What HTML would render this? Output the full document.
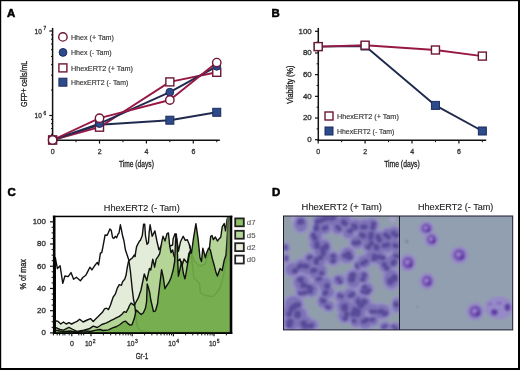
<!DOCTYPE html>
<html><head><meta charset="utf-8"><style>
html,body{margin:0;padding:0;background:#fff;width:520px;height:370px;overflow:hidden;}
svg{display:block;opacity:0.999;}
text{font-family:"Liberation Sans", sans-serif;}
</style></head><body>
<svg width="520" height="370" viewBox="0 0 520 370">
<rect width="520" height="370" fill="#fff"/>
<text x="7.10" y="17.00" font-size="11.4" text-anchor="start" fill="#000" stroke="#000" stroke-width="0.55" font-weight="bold" >A</text>
<line x1="52.60" y1="27.90" x2="52.60" y2="140.90" stroke="#111" stroke-width="1.5"/>
<line x1="51.90" y1="140.20" x2="219.80" y2="140.20" stroke="#111" stroke-width="1.5"/>
<line x1="49.30" y1="115.50" x2="52.60" y2="115.50" stroke="#111" stroke-width="1.2"/>
<line x1="49.30" y1="31.00" x2="52.60" y2="31.00" stroke="#111" stroke-width="1.2"/>
<line x1="51.00" y1="134.25" x2="52.60" y2="134.25" stroke="#111" stroke-width="1.0"/>
<line x1="51.00" y1="128.59" x2="52.60" y2="128.59" stroke="#111" stroke-width="1.0"/>
<line x1="51.00" y1="123.69" x2="52.60" y2="123.69" stroke="#111" stroke-width="1.0"/>
<line x1="51.00" y1="119.37" x2="52.60" y2="119.37" stroke="#111" stroke-width="1.0"/>
<line x1="51.00" y1="90.06" x2="52.60" y2="90.06" stroke="#111" stroke-width="1.0"/>
<line x1="51.00" y1="75.18" x2="52.60" y2="75.18" stroke="#111" stroke-width="1.0"/>
<line x1="51.00" y1="64.63" x2="52.60" y2="64.63" stroke="#111" stroke-width="1.0"/>
<line x1="51.00" y1="56.44" x2="52.60" y2="56.44" stroke="#111" stroke-width="1.0"/>
<line x1="51.00" y1="49.75" x2="52.60" y2="49.75" stroke="#111" stroke-width="1.0"/>
<line x1="51.00" y1="44.09" x2="52.60" y2="44.09" stroke="#111" stroke-width="1.0"/>
<line x1="51.00" y1="39.19" x2="52.60" y2="39.19" stroke="#111" stroke-width="1.0"/>
<line x1="51.00" y1="34.87" x2="52.60" y2="34.87" stroke="#111" stroke-width="1.0"/>
<line x1="52.60" y1="140.20" x2="52.60" y2="143.60" stroke="#111" stroke-width="1.2"/>
<line x1="76.05" y1="140.20" x2="76.05" y2="142.20" stroke="#111" stroke-width="1.0"/>
<line x1="99.50" y1="140.20" x2="99.50" y2="143.60" stroke="#111" stroke-width="1.2"/>
<line x1="122.95" y1="140.20" x2="122.95" y2="142.20" stroke="#111" stroke-width="1.0"/>
<line x1="146.40" y1="140.20" x2="146.40" y2="143.60" stroke="#111" stroke-width="1.2"/>
<line x1="169.85" y1="140.20" x2="169.85" y2="142.20" stroke="#111" stroke-width="1.0"/>
<line x1="193.30" y1="140.20" x2="193.30" y2="143.60" stroke="#111" stroke-width="1.2"/>
<line x1="216.75" y1="140.20" x2="216.75" y2="142.20" stroke="#111" stroke-width="1.0"/>
<text x="41.80" y="33.70" font-size="6.5" text-anchor="end" fill="#333" stroke="#333" stroke-width="0.3" textLength="7.2" lengthAdjust="spacingAndGlyphs" >10</text>
<text x="43.50" y="30.20" font-size="4.8" text-anchor="start" fill="#333" stroke="#333" stroke-width="0.3" >7</text>
<text x="41.80" y="118.20" font-size="6.5" text-anchor="end" fill="#333" stroke="#333" stroke-width="0.3" textLength="7.2" lengthAdjust="spacingAndGlyphs" >10</text>
<text x="43.50" y="114.70" font-size="4.8" text-anchor="start" fill="#333" stroke="#333" stroke-width="0.3" >6</text>
<text x="52.70" y="153.60" font-size="7" text-anchor="middle" fill="#333" stroke="#333" stroke-width="0.3" >0</text>
<text x="99.60" y="153.60" font-size="7" text-anchor="middle" fill="#333" stroke="#333" stroke-width="0.3" >2</text>
<text x="146.50" y="153.60" font-size="7" text-anchor="middle" fill="#333" stroke="#333" stroke-width="0.3" >4</text>
<text x="193.40" y="153.60" font-size="7" text-anchor="middle" fill="#333" stroke="#333" stroke-width="0.3" >6</text>
<text x="118.90" y="167.10" font-size="9.2" text-anchor="start" fill="#222" stroke="#222" stroke-width="0.3" textLength="35" lengthAdjust="spacingAndGlyphs" >Time (days)</text>
<text x="27.30" y="107.00" font-size="8.4" text-anchor="start" fill="#222" stroke="#222" stroke-width="0.3" textLength="46.2" lengthAdjust="spacingAndGlyphs" transform="rotate(-90 27.30 107.00)" >GFP+ cells/mL</text>
<path d="M52.60,140.00 L99.50,124.80 L169.85,120.20 L216.75,112.30" fill="none" stroke="#1f2a4e" stroke-width="1.9" stroke-linejoin="round"/>
<path d="M52.60,140.00 L99.50,127.20 L169.85,81.90 L216.75,72.30" fill="none" stroke="#981845" stroke-width="1.9" stroke-linejoin="round"/>
<path d="M52.60,140.00 L99.50,123.60 L169.85,92.20 L216.75,66.30" fill="none" stroke="#1f2a4e" stroke-width="1.9" stroke-linejoin="round"/>
<path d="M52.60,140.00 L99.50,118.20 L169.85,100.00 L216.75,62.60" fill="none" stroke="#981845" stroke-width="1.9" stroke-linejoin="round"/>
<rect x="48.60" y="136.00" width="8" height="8" fill="#2d4a8a" stroke="#1d2d5c" stroke-width="1"/>
<rect x="95.50" y="120.80" width="8" height="8" fill="#2d4a8a" stroke="#1d2d5c" stroke-width="1"/>
<rect x="165.85" y="116.20" width="8" height="8" fill="#2d4a8a" stroke="#1d2d5c" stroke-width="1"/>
<rect x="212.75" y="108.30" width="8" height="8" fill="#2d4a8a" stroke="#1d2d5c" stroke-width="1"/>
<rect x="48.60" y="136.00" width="8.0" height="8.0" fill="#fff" stroke="#6e1636" stroke-width="1.4"/>
<rect x="95.50" y="123.20" width="8.0" height="8.0" fill="#fff" stroke="#6e1636" stroke-width="1.4"/>
<rect x="165.85" y="77.90" width="8.0" height="8.0" fill="#fff" stroke="#6e1636" stroke-width="1.4"/>
<rect x="212.75" y="68.30" width="8.0" height="8.0" fill="#fff" stroke="#6e1636" stroke-width="1.4"/>
<circle cx="52.60" cy="140.00" r="3.9000000000000004" fill="#2d4a8a" stroke="#1d2d5c" stroke-width="1"/>
<circle cx="99.50" cy="123.60" r="3.9000000000000004" fill="#2d4a8a" stroke="#1d2d5c" stroke-width="1"/>
<circle cx="169.85" cy="92.20" r="3.9000000000000004" fill="#2d4a8a" stroke="#1d2d5c" stroke-width="1"/>
<circle cx="216.75" cy="66.30" r="3.9000000000000004" fill="#2d4a8a" stroke="#1d2d5c" stroke-width="1"/>
<circle cx="52.60" cy="140.00" r="4.2" fill="#fff" stroke="#6e1636" stroke-width="1.4"/>
<circle cx="99.50" cy="118.20" r="4.2" fill="#fff" stroke="#6e1636" stroke-width="1.4"/>
<circle cx="169.85" cy="100.00" r="4.2" fill="#fff" stroke="#6e1636" stroke-width="1.4"/>
<circle cx="216.75" cy="62.60" r="4.2" fill="#fff" stroke="#6e1636" stroke-width="1.4"/>
<circle cx="62.90" cy="36.90" r="4.2" fill="#fff" stroke="#6e1636" stroke-width="1.4"/>
<text x="70.90" y="39.60" font-size="7.3" text-anchor="start" fill="#333" stroke="#333" stroke-width="0.15" textLength="43.1" lengthAdjust="spacingAndGlyphs" >Hhex (+ Tam)</text>
<circle cx="63.00" cy="52.40" r="3.9000000000000004" fill="#2d4a8a" stroke="#1d2d5c" stroke-width="1"/>
<text x="70.90" y="54.50" font-size="7.3" text-anchor="start" fill="#333" stroke="#333" stroke-width="0.15" textLength="40.8" lengthAdjust="spacingAndGlyphs" >Hhex (- Tam)</text>
<rect x="58.90" y="63.90" width="8.0" height="8.0" fill="#fff" stroke="#6e1636" stroke-width="1.4"/>
<text x="70.90" y="70.50" font-size="7.3" text-anchor="start" fill="#333" stroke="#333" stroke-width="0.15" textLength="62.0" lengthAdjust="spacingAndGlyphs" >HhexERT2 (+ Tam)</text>
<rect x="58.90" y="78.20" width="8" height="8" fill="#2d4a8a" stroke="#1d2d5c" stroke-width="1"/>
<text x="70.90" y="84.90" font-size="7.3" text-anchor="start" fill="#333" stroke="#333" stroke-width="0.15" textLength="57.4" lengthAdjust="spacingAndGlyphs" >HhexERT2 (- Tam)</text>
<text x="271.60" y="16.90" font-size="11.4" text-anchor="start" fill="#000" stroke="#000" stroke-width="0.55" font-weight="bold" >B</text>
<line x1="318.30" y1="27.90" x2="318.30" y2="141.00" stroke="#111" stroke-width="1.5"/>
<line x1="317.60" y1="140.30" x2="486.20" y2="140.30" stroke="#111" stroke-width="1.5"/>
<line x1="315.00" y1="139.70" x2="318.30" y2="139.70" stroke="#111" stroke-width="1.2"/>
<text x="311.70" y="142.10" font-size="6.8" text-anchor="end" fill="#333" stroke="#333" stroke-width="0.3" textLength="4.4" lengthAdjust="spacingAndGlyphs" >0</text>
<line x1="315.00" y1="118.02" x2="318.30" y2="118.02" stroke="#111" stroke-width="1.2"/>
<text x="311.70" y="120.42" font-size="6.8" text-anchor="end" fill="#333" stroke="#333" stroke-width="0.3" textLength="8.8" lengthAdjust="spacingAndGlyphs" >20</text>
<line x1="315.00" y1="96.34" x2="318.30" y2="96.34" stroke="#111" stroke-width="1.2"/>
<text x="311.70" y="98.74" font-size="6.8" text-anchor="end" fill="#333" stroke="#333" stroke-width="0.3" textLength="8.8" lengthAdjust="spacingAndGlyphs" >40</text>
<line x1="315.00" y1="74.66" x2="318.30" y2="74.66" stroke="#111" stroke-width="1.2"/>
<text x="311.70" y="77.06" font-size="6.8" text-anchor="end" fill="#333" stroke="#333" stroke-width="0.3" textLength="8.8" lengthAdjust="spacingAndGlyphs" >60</text>
<line x1="315.00" y1="52.98" x2="318.30" y2="52.98" stroke="#111" stroke-width="1.2"/>
<text x="311.70" y="55.38" font-size="6.8" text-anchor="end" fill="#333" stroke="#333" stroke-width="0.3" textLength="8.8" lengthAdjust="spacingAndGlyphs" >80</text>
<line x1="315.00" y1="31.30" x2="318.30" y2="31.30" stroke="#111" stroke-width="1.2"/>
<text x="311.70" y="33.70" font-size="6.8" text-anchor="end" fill="#333" stroke="#333" stroke-width="0.3" textLength="13.200000000000001" lengthAdjust="spacingAndGlyphs" >100</text>
<line x1="316.60" y1="128.86" x2="318.30" y2="128.86" stroke="#111" stroke-width="1.0"/>
<line x1="316.60" y1="107.18" x2="318.30" y2="107.18" stroke="#111" stroke-width="1.0"/>
<line x1="316.60" y1="85.50" x2="318.30" y2="85.50" stroke="#111" stroke-width="1.0"/>
<line x1="316.60" y1="63.82" x2="318.30" y2="63.82" stroke="#111" stroke-width="1.0"/>
<line x1="316.60" y1="42.14" x2="318.30" y2="42.14" stroke="#111" stroke-width="1.0"/>
<line x1="318.20" y1="140.30" x2="318.20" y2="143.60" stroke="#111" stroke-width="1.2"/>
<text x="318.30" y="153.60" font-size="7" text-anchor="middle" fill="#333" stroke="#333" stroke-width="0.3" >0</text>
<line x1="341.65" y1="140.30" x2="341.65" y2="142.20" stroke="#111" stroke-width="1.0"/>
<line x1="365.10" y1="140.30" x2="365.10" y2="143.60" stroke="#111" stroke-width="1.2"/>
<text x="365.20" y="153.60" font-size="7" text-anchor="middle" fill="#333" stroke="#333" stroke-width="0.3" >2</text>
<line x1="388.55" y1="140.30" x2="388.55" y2="142.20" stroke="#111" stroke-width="1.0"/>
<line x1="412.00" y1="140.30" x2="412.00" y2="143.60" stroke="#111" stroke-width="1.2"/>
<text x="412.10" y="153.60" font-size="7" text-anchor="middle" fill="#333" stroke="#333" stroke-width="0.3" >4</text>
<line x1="435.45" y1="140.30" x2="435.45" y2="142.20" stroke="#111" stroke-width="1.0"/>
<line x1="458.90" y1="140.30" x2="458.90" y2="143.60" stroke="#111" stroke-width="1.2"/>
<text x="459.00" y="153.60" font-size="7" text-anchor="middle" fill="#333" stroke="#333" stroke-width="0.3" >6</text>
<line x1="482.35" y1="140.30" x2="482.35" y2="142.20" stroke="#111" stroke-width="1.0"/>
<text x="384.20" y="167.40" font-size="9.2" text-anchor="start" fill="#222" stroke="#222" stroke-width="0.3" textLength="35.5" lengthAdjust="spacingAndGlyphs" >Time (days)</text>
<text x="293.30" y="103.80" font-size="8.6" text-anchor="start" fill="#222" stroke="#222" stroke-width="0.3" textLength="38.1" lengthAdjust="spacingAndGlyphs" transform="rotate(-90 293.30 103.80)" >Viability (%)</text>
<path d="M318.20,46.60 L365.10,46.00 L435.45,105.40 L482.35,131.00" fill="none" stroke="#1f2a4e" stroke-width="1.9" stroke-linejoin="round"/>
<path d="M318.20,46.60 L365.10,45.20 L435.45,50.00 L482.35,56.10" fill="none" stroke="#981845" stroke-width="1.9" stroke-linejoin="round"/>
<rect x="314.20" y="42.60" width="8" height="8" fill="#2d4a8a" stroke="#1d2d5c" stroke-width="1"/>
<rect x="361.10" y="42.00" width="8" height="8" fill="#2d4a8a" stroke="#1d2d5c" stroke-width="1"/>
<rect x="431.45" y="101.40" width="8" height="8" fill="#2d4a8a" stroke="#1d2d5c" stroke-width="1"/>
<rect x="478.35" y="127.00" width="8" height="8" fill="#2d4a8a" stroke="#1d2d5c" stroke-width="1"/>
<rect x="314.20" y="42.60" width="8.0" height="8.0" fill="#fff" stroke="#6e1636" stroke-width="1.4"/>
<rect x="361.10" y="41.20" width="8.0" height="8.0" fill="#fff" stroke="#6e1636" stroke-width="1.4"/>
<rect x="431.45" y="46.00" width="8.0" height="8.0" fill="#fff" stroke="#6e1636" stroke-width="1.4"/>
<rect x="478.35" y="52.10" width="8.0" height="8.0" fill="#fff" stroke="#6e1636" stroke-width="1.4"/>
<rect x="325.00" y="112.00" width="8.0" height="8.0" fill="#fff" stroke="#6e1636" stroke-width="1.4"/>
<text x="337.00" y="118.80" font-size="7.3" text-anchor="start" fill="#333" stroke="#333" stroke-width="0.15" textLength="61.8" lengthAdjust="spacingAndGlyphs" >HhexERT2 (+ Tam)</text>
<rect x="325.00" y="127.00" width="8" height="8" fill="#2d4a8a" stroke="#1d2d5c" stroke-width="1"/>
<text x="337.00" y="133.80" font-size="7.3" text-anchor="start" fill="#333" stroke="#333" stroke-width="0.15" textLength="57.4" lengthAdjust="spacingAndGlyphs" >HhexERT2 (- Tam)</text>
<text x="7.60" y="195.80" font-size="11.4" text-anchor="start" fill="#000" stroke="#000" stroke-width="0.55" font-weight="bold" >C</text>
<text x="103.80" y="211.00" font-size="9.2" text-anchor="start" fill="#222" stroke="#222" stroke-width="0.12" textLength="76" lengthAdjust="spacingAndGlyphs" >HhexERT2 (- Tam)</text>
<g stroke-linejoin="round">
<path d="M55.30,333.00 L55.30,320.70 L58.10,321.40 L60.80,324.00 L63.50,322.00 L66.20,324.00 L68.90,322.70 L71.60,324.00 L74.30,322.70 L77.00,321.40 L79.70,319.30 L83.10,322.00 L87.20,320.00 L90.50,318.60 L93.20,321.40 L96.60,318.00 L97.70,317.00 L100.40,314.30 L102.40,312.30 L104.50,308.90 L106.50,308.20 L108.50,309.60 L110.50,304.90 L111.90,300.80 L113.20,297.00 L115.30,294.20 L117.30,288.10 L119.30,284.70 L121.40,285.40 L122.70,281.40 L124.70,279.30 L126.10,275.00 L127.10,268.40 L128.50,261.30 L130.40,259.40 L132.30,258.00 L134.20,255.10 L135.10,256.60 L135.60,252.30 L136.60,246.60 L138.00,243.80 L139.50,241.00 L140.30,240.40 L142.30,235.60 L143.60,224.20 L144.70,224.20 L145.50,236.00 L147.00,244.30 L148.40,242.80 L149.20,232.00 L150.10,224.80 L152.20,236.30 L154.90,230.90 L156.90,241.00 L158.90,249.80 L161.00,246.00 L164.00,244.00 L167.00,242.00 L170.00,246.00 L172.60,245.00 L173.10,239.00 L175.10,233.60 L176.80,239.00 L178.50,251.20 L180.50,241.70 L183.20,236.30 L185.30,240.40 L187.30,239.70 L189.30,244.40 L191.00,251.00 L193.80,277.80 L199.50,283.50 L200.40,293.00 L207.00,295.80 L212.70,296.70 L216.50,293.00 L220.20,287.30 L223.00,277.80 L226.00,262.00 L228.50,240.00 L230.40,230.00 L230.40,333.00 Z" fill="#e2ecd8"/>
<path d="M55.30,333.00 L55.30,320.70 L58.10,321.40 L60.80,324.00 L63.50,322.00 L66.20,324.00 L68.90,322.70 L71.60,324.00 L74.30,322.70 L77.00,321.40 L79.70,319.30 L83.10,322.00 L87.20,320.00 L90.50,318.60 L93.20,321.40 L96.60,318.00 L97.70,317.00 L100.40,314.30 L102.40,312.30 L104.50,308.90 L106.50,308.20 L108.50,309.60 L110.50,304.90 L111.90,300.80 L113.20,297.00 L115.30,294.20 L117.30,288.10 L119.30,284.70 L121.40,285.40 L122.70,281.40 L124.70,279.30 L126.10,275.00 L127.10,268.40 L128.50,261.30 L130.40,259.40 L132.30,258.00 L134.20,255.10 L135.10,256.60 L135.60,252.30 L136.60,246.60 L138.00,243.80 L139.50,241.00 L140.30,240.40 L142.30,235.60 L143.60,224.20 L144.70,224.20 L145.50,236.00 L147.00,244.30 L148.40,242.80 L149.20,232.00 L150.10,224.80 L152.20,236.30 L154.90,230.90 L156.90,241.00 L158.90,249.80 L161.00,246.00 L164.00,244.00 L167.00,242.00 L170.00,246.00 L172.60,245.00 L173.10,239.00 L175.10,233.60 L176.80,239.00 L178.50,251.20 L180.50,241.70 L183.20,236.30 L185.30,240.40 L187.30,239.70 L189.30,244.40 L191.00,251.00 L193.80,277.80 L199.50,283.50 L200.40,293.00 L207.00,295.80 L212.70,296.70 L216.50,293.00 L220.20,287.30 L223.00,277.80 L226.00,262.00 L228.50,240.00 L230.40,230.00 L230.40,333.00" fill="none" stroke="#111" stroke-width="1.4"/>
<path d="M55.30,333.00 L55.30,327.40 L60.00,329.50 L63.50,330.10 L68.90,327.40 L73.00,329.50 L77.00,331.50 L83.80,330.10 L89.20,328.80 L93.20,326.10 L97.30,327.50 L101.80,324.50 L105.80,323.10 L108.50,321.80 L111.20,320.40 L113.90,319.10 L116.60,317.70 L119.30,316.40 L122.00,314.30 L124.10,311.60 L126.10,312.30 L128.10,308.90 L129.50,305.50 L131.00,303.10 L132.60,304.20 L134.20,305.30 L135.50,303.00 L138.20,298.20 L141.00,290.00 L144.30,274.00 L146.80,280.70 L148.40,273.20 L149.50,268.50 L150.80,269.90 L152.80,259.10 L154.60,267.20 L156.20,259.10 L158.20,256.40 L159.70,253.70 L161.10,245.60 L162.40,238.80 L163.00,236.30 L165.00,241.00 L167.00,233.60 L168.40,232.90 L169.70,245.80 L171.00,252.50 L172.60,250.00 L174.00,256.00 L176.60,261.80 L180.00,259.00 L182.00,265.80 L184.00,259.00 L187.40,263.10 L188.80,253.70 L190.80,249.60 L192.50,256.00 L195.00,262.00 L200.00,266.00 L205.00,264.00 L209.00,252.00 L210.70,236.30 L212.00,235.60 L213.40,239.70 L215.40,237.00 L217.40,241.00 L219.50,238.40 L220.80,237.00 L222.20,226.90 L224.20,223.50 L225.50,230.90 L226.90,220.10 L228.20,217.40 L229.50,217.40 L230.60,225.00 L230.60,333.00 Z" fill="#b2d493" fill-opacity="0.95"/>
<path d="M55.30,333.00 L55.30,327.40 L60.00,329.50 L63.50,330.10 L68.90,327.40 L73.00,329.50 L77.00,331.50 L83.80,330.10 L89.20,328.80 L93.20,326.10 L97.30,327.50 L101.80,324.50 L105.80,323.10 L108.50,321.80 L111.20,320.40 L113.90,319.10 L116.60,317.70 L119.30,316.40 L122.00,314.30 L124.10,311.60 L126.10,312.30 L128.10,308.90 L129.50,305.50 L131.00,303.10 L132.60,304.20 L134.20,305.30 L135.50,303.00 L138.20,298.20 L141.00,290.00 L144.30,274.00 L146.80,280.70 L148.40,273.20 L149.50,268.50 L150.80,269.90 L152.80,259.10 L154.60,267.20 L156.20,259.10 L158.20,256.40 L159.70,253.70 L161.10,245.60 L162.40,238.80 L163.00,236.30 L165.00,241.00 L167.00,233.60 L168.40,232.90 L169.70,245.80 L171.00,252.50 L172.60,250.00 L174.00,256.00 L176.60,261.80 L180.00,259.00 L182.00,265.80 L184.00,259.00 L187.40,263.10 L188.80,253.70 L190.80,249.60 L192.50,256.00 L195.00,262.00 L200.00,266.00 L205.00,264.00 L209.00,252.00 L210.70,236.30 L212.00,235.60 L213.40,239.70 L215.40,237.00 L217.40,241.00 L219.50,238.40 L220.80,237.00 L222.20,226.90 L224.20,223.50 L225.50,230.90 L226.90,220.10 L228.20,217.40 L229.50,217.40 L230.60,225.00 L230.60,333.00" fill="none" stroke="#111" stroke-width="1.4"/>
<path d="M55.30,333.00 L55.30,257.70 L57.40,268.50 L60.10,265.80 L62.80,283.40 L64.90,276.00 L68.20,276.60 L71.00,272.60 L73.60,279.30 L76.40,277.30 L80.40,280.70 L83.10,277.30 L85.80,275.30 L87.20,272.60 L89.90,267.20 L91.90,269.90 L94.60,265.80 L97.30,262.40 L98.60,265.00 L100.40,253.20 L101.80,252.50 L103.10,245.80 L105.10,235.00 L107.20,235.20 L108.50,232.30 L109.90,228.90 L111.20,230.20 L112.60,237.70 L113.90,238.40 L115.30,236.30 L116.60,237.70 L118.00,234.30 L119.00,233.00 L120.40,224.80 L121.40,229.60 L122.70,236.30 L124.00,241.00 L125.40,249.80 L126.80,253.90 L128.80,260.00 L130.40,271.20 L132.20,288.80 L133.60,300.00 L134.70,304.70 L135.50,312.00 L136.50,322.00 L138.00,328.00 L141.00,331.00 L150.00,332.00 L190.00,332.30 L230.40,332.30 L230.40,333.00" fill="none" stroke="#111" stroke-width="1.4"/>
<path d="M189.30,244.40 L191.00,251.00 L193.80,277.80 L199.50,283.50 L200.40,293.00 L207.00,295.80 L212.70,296.70 L216.50,293.00 L220.20,287.30 L223.00,277.80 L226.00,262.00 L228.50,240.00 L230.40,230.00" fill="none" stroke="#111" stroke-width="1.4"/>
<path d="M55.30,333.00 L55.30,330.10 L60.00,331.00 L65.00,331.50 L70.00,331.00 L77.00,332.20 L83.80,330.80 L90.50,331.50 L96.00,330.10 L100.00,329.50 L103.10,330.50 L108.50,329.90 L112.60,327.80 L116.60,326.50 L120.00,324.50 L123.40,321.80 L125.40,321.10 L127.40,323.10 L130.10,325.10 L132.00,324.70 L134.20,318.80 L135.80,311.80 L136.40,310.10 L139.10,312.80 L141.20,314.50 L143.40,312.80 L145.50,308.00 L146.60,301.50 L147.20,284.00 L148.50,288.00 L149.70,292.50 L150.80,300.00 L153.50,311.60 L155.50,310.90 L157.60,303.50 L157.90,300.00 L159.50,287.00 L161.60,269.70 L163.30,277.30 L164.90,288.70 L166.50,286.00 L168.70,282.70 L170.80,278.40 L173.00,270.80 L174.60,262.00 L175.60,240.00 L176.30,234.00 L177.10,244.00 L177.80,263.20 L178.40,276.20 L180.60,266.50 L181.70,261.60 L183.30,273.00 L184.90,278.90 L185.80,274.70 L187.70,263.40 L189.60,253.00 L191.50,253.00 L193.40,238.80 L195.90,223.70 L198.10,238.80 L200.00,257.70 L201.50,261.50 L202.80,248.20 L204.20,253.00 L205.30,257.70 L206.60,253.00 L208.50,248.20 L210.40,250.10 L212.30,258.60 L214.20,265.30 L216.10,272.80 L217.40,276.00 L220.10,268.50 L222.20,270.50 L224.20,260.40 L226.00,255.00 L227.00,240.00 L228.20,222.00 L229.20,217.50 L230.40,217.50 L230.40,333.00 Z" fill="#72ab4a" fill-opacity="0.92"/>
<path d="M55.30,333.00 L55.30,330.10 L60.00,331.00 L65.00,331.50 L70.00,331.00 L77.00,332.20 L83.80,330.80 L90.50,331.50 L96.00,330.10 L100.00,329.50 L103.10,330.50 L108.50,329.90 L112.60,327.80 L116.60,326.50 L120.00,324.50 L123.40,321.80 L125.40,321.10 L127.40,323.10 L130.10,325.10 L132.00,324.70 L134.20,318.80 L135.80,311.80 L136.40,310.10 L139.10,312.80 L141.20,314.50 L143.40,312.80 L145.50,308.00 L146.60,301.50 L147.20,284.00 L148.50,288.00 L149.70,292.50 L150.80,300.00 L153.50,311.60 L155.50,310.90 L157.60,303.50 L157.90,300.00 L159.50,287.00 L161.60,269.70 L163.30,277.30 L164.90,288.70 L166.50,286.00 L168.70,282.70 L170.80,278.40 L173.00,270.80 L174.60,262.00 L175.60,240.00 L176.30,234.00 L177.10,244.00 L177.80,263.20 L178.40,276.20 L180.60,266.50 L181.70,261.60 L183.30,273.00 L184.90,278.90 L185.80,274.70 L187.70,263.40 L189.60,253.00 L191.50,253.00 L193.40,238.80 L195.90,223.70 L198.10,238.80 L200.00,257.70 L201.50,261.50 L202.80,248.20 L204.20,253.00 L205.30,257.70 L206.60,253.00 L208.50,248.20 L210.40,250.10 L212.30,258.60 L214.20,265.30 L216.10,272.80 L217.40,276.00 L220.10,268.50 L222.20,270.50 L224.20,260.40 L226.00,255.00 L227.00,240.00 L228.20,222.00 L229.20,217.50 L230.40,217.50 L230.40,333.00" fill="none" stroke="#111" stroke-width="1.4"/>
</g>
<defs><linearGradient id="rc" x1="0" y1="0" x2="0" y2="1"><stop offset="0" stop-color="#5f6f55" stop-opacity="0.85"/><stop offset="0.5" stop-color="#6f8a5a" stop-opacity="0.5"/><stop offset="1" stop-color="#78af50" stop-opacity="0"/></linearGradient></defs>
<rect x="226.6" y="217" width="3.8" height="60" fill="url(#rc)"/>
<rect x="52.9" y="215.7" width="2.6" height="118.2" fill="#000"/>
<rect x="52.9" y="215.7" width="179.4" height="1.5" fill="#000"/>
<rect x="230.3" y="215.7" width="2.0" height="118.2" fill="#000"/>
<rect x="52.9" y="332.2" width="179.4" height="1.8" fill="#000"/>
<line x1="50.00" y1="332.90" x2="53.60" y2="332.90" stroke="#111" stroke-width="1.2"/>
<text x="45.90" y="335.30" font-size="7" text-anchor="end" fill="#333" stroke="#333" stroke-width="0.3" textLength="4.4" lengthAdjust="spacingAndGlyphs" >0</text>
<line x1="51.60" y1="327.34" x2="53.60" y2="327.34" stroke="#111" stroke-width="1.0"/>
<line x1="51.60" y1="321.79" x2="53.60" y2="321.79" stroke="#111" stroke-width="1.0"/>
<line x1="51.60" y1="316.23" x2="53.60" y2="316.23" stroke="#111" stroke-width="1.0"/>
<line x1="50.00" y1="310.68" x2="53.60" y2="310.68" stroke="#111" stroke-width="1.2"/>
<text x="45.90" y="313.08" font-size="7" text-anchor="end" fill="#333" stroke="#333" stroke-width="0.3" textLength="8.8" lengthAdjust="spacingAndGlyphs" >20</text>
<line x1="51.60" y1="305.12" x2="53.60" y2="305.12" stroke="#111" stroke-width="1.0"/>
<line x1="51.60" y1="299.57" x2="53.60" y2="299.57" stroke="#111" stroke-width="1.0"/>
<line x1="51.60" y1="294.01" x2="53.60" y2="294.01" stroke="#111" stroke-width="1.0"/>
<line x1="50.00" y1="288.46" x2="53.60" y2="288.46" stroke="#111" stroke-width="1.2"/>
<text x="45.90" y="290.86" font-size="7" text-anchor="end" fill="#333" stroke="#333" stroke-width="0.3" textLength="8.8" lengthAdjust="spacingAndGlyphs" >40</text>
<line x1="51.60" y1="282.90" x2="53.60" y2="282.90" stroke="#111" stroke-width="1.0"/>
<line x1="51.60" y1="277.35" x2="53.60" y2="277.35" stroke="#111" stroke-width="1.0"/>
<line x1="51.60" y1="271.79" x2="53.60" y2="271.79" stroke="#111" stroke-width="1.0"/>
<line x1="50.00" y1="266.24" x2="53.60" y2="266.24" stroke="#111" stroke-width="1.2"/>
<text x="45.90" y="268.64" font-size="7" text-anchor="end" fill="#333" stroke="#333" stroke-width="0.3" textLength="8.8" lengthAdjust="spacingAndGlyphs" >60</text>
<line x1="51.60" y1="260.68" x2="53.60" y2="260.68" stroke="#111" stroke-width="1.0"/>
<line x1="51.60" y1="255.13" x2="53.60" y2="255.13" stroke="#111" stroke-width="1.0"/>
<line x1="51.60" y1="249.57" x2="53.60" y2="249.57" stroke="#111" stroke-width="1.0"/>
<line x1="50.00" y1="244.02" x2="53.60" y2="244.02" stroke="#111" stroke-width="1.2"/>
<text x="45.90" y="246.42" font-size="7" text-anchor="end" fill="#333" stroke="#333" stroke-width="0.3" textLength="8.8" lengthAdjust="spacingAndGlyphs" >80</text>
<line x1="51.60" y1="238.46" x2="53.60" y2="238.46" stroke="#111" stroke-width="1.0"/>
<line x1="51.60" y1="232.91" x2="53.60" y2="232.91" stroke="#111" stroke-width="1.0"/>
<line x1="51.60" y1="227.35" x2="53.60" y2="227.35" stroke="#111" stroke-width="1.0"/>
<line x1="50.00" y1="221.80" x2="53.60" y2="221.80" stroke="#111" stroke-width="1.2"/>
<text x="45.90" y="224.20" font-size="7" text-anchor="end" fill="#333" stroke="#333" stroke-width="0.3" textLength="13.200000000000001" lengthAdjust="spacingAndGlyphs" >100</text>
<text x="25.60" y="289.40" font-size="8.2" text-anchor="start" fill="#222" stroke="#222" stroke-width="0.3" textLength="30.3" lengthAdjust="spacingAndGlyphs" transform="rotate(-90 25.60 289.40)" >% of max</text>
<line x1="53.40" y1="333.00" x2="53.40" y2="335.40" stroke="#111" stroke-width="1.0"/>
<line x1="57.20" y1="333.00" x2="57.20" y2="335.40" stroke="#111" stroke-width="1.0"/>
<line x1="59.60" y1="333.00" x2="59.60" y2="335.40" stroke="#111" stroke-width="1.0"/>
<line x1="63.00" y1="333.00" x2="63.00" y2="335.40" stroke="#111" stroke-width="1.0"/>
<line x1="64.90" y1="333.00" x2="64.90" y2="335.40" stroke="#111" stroke-width="1.0"/>
<line x1="69.20" y1="333.00" x2="69.20" y2="335.40" stroke="#111" stroke-width="1.0"/>
<line x1="78.80" y1="333.00" x2="78.80" y2="335.40" stroke="#111" stroke-width="1.0"/>
<line x1="81.30" y1="333.00" x2="81.30" y2="335.40" stroke="#111" stroke-width="1.0"/>
<line x1="83.70" y1="333.00" x2="83.70" y2="335.40" stroke="#111" stroke-width="1.0"/>
<line x1="103.40" y1="333.00" x2="103.40" y2="335.40" stroke="#111" stroke-width="1.0"/>
<line x1="110.66" y1="333.00" x2="110.66" y2="335.40" stroke="#111" stroke-width="1.0"/>
<line x1="115.80" y1="333.00" x2="115.80" y2="335.40" stroke="#111" stroke-width="1.0"/>
<line x1="119.80" y1="333.00" x2="119.80" y2="335.40" stroke="#111" stroke-width="1.0"/>
<line x1="123.06" y1="333.00" x2="123.06" y2="335.40" stroke="#111" stroke-width="1.0"/>
<line x1="125.82" y1="333.00" x2="125.82" y2="335.40" stroke="#111" stroke-width="1.0"/>
<line x1="128.21" y1="333.00" x2="128.21" y2="335.40" stroke="#111" stroke-width="1.0"/>
<line x1="130.31" y1="333.00" x2="130.31" y2="335.40" stroke="#111" stroke-width="1.0"/>
<line x1="144.60" y1="333.00" x2="144.60" y2="335.40" stroke="#111" stroke-width="1.0"/>
<line x1="151.86" y1="333.00" x2="151.86" y2="335.40" stroke="#111" stroke-width="1.0"/>
<line x1="157.00" y1="333.00" x2="157.00" y2="335.40" stroke="#111" stroke-width="1.0"/>
<line x1="161.00" y1="333.00" x2="161.00" y2="335.40" stroke="#111" stroke-width="1.0"/>
<line x1="164.26" y1="333.00" x2="164.26" y2="335.40" stroke="#111" stroke-width="1.0"/>
<line x1="167.02" y1="333.00" x2="167.02" y2="335.40" stroke="#111" stroke-width="1.0"/>
<line x1="169.41" y1="333.00" x2="169.41" y2="335.40" stroke="#111" stroke-width="1.0"/>
<line x1="171.51" y1="333.00" x2="171.51" y2="335.40" stroke="#111" stroke-width="1.0"/>
<line x1="185.62" y1="333.00" x2="185.62" y2="335.40" stroke="#111" stroke-width="1.0"/>
<line x1="192.77" y1="333.00" x2="192.77" y2="335.40" stroke="#111" stroke-width="1.0"/>
<line x1="197.84" y1="333.00" x2="197.84" y2="335.40" stroke="#111" stroke-width="1.0"/>
<line x1="201.78" y1="333.00" x2="201.78" y2="335.40" stroke="#111" stroke-width="1.0"/>
<line x1="204.99" y1="333.00" x2="204.99" y2="335.40" stroke="#111" stroke-width="1.0"/>
<line x1="207.71" y1="333.00" x2="207.71" y2="335.40" stroke="#111" stroke-width="1.0"/>
<line x1="210.07" y1="333.00" x2="210.07" y2="335.40" stroke="#111" stroke-width="1.0"/>
<line x1="212.14" y1="333.00" x2="212.14" y2="335.40" stroke="#111" stroke-width="1.0"/>
<line x1="226.34" y1="333.00" x2="226.34" y2="335.40" stroke="#111" stroke-width="1.0"/>
<line x1="71.80" y1="333.00" x2="71.80" y2="336.20" stroke="#111" stroke-width="1.2"/>
<line x1="91.00" y1="333.00" x2="91.00" y2="336.20" stroke="#111" stroke-width="1.2"/>
<line x1="132.20" y1="333.00" x2="132.20" y2="336.20" stroke="#111" stroke-width="1.2"/>
<line x1="173.40" y1="333.00" x2="173.40" y2="336.20" stroke="#111" stroke-width="1.2"/>
<line x1="214.00" y1="333.00" x2="214.00" y2="336.20" stroke="#111" stroke-width="1.2"/>
<text x="71.90" y="346.40" font-size="7" text-anchor="middle" fill="#333" stroke="#333" stroke-width="0.3" >0</text>
<text x="92.30" y="346.40" font-size="7" text-anchor="end" fill="#333" stroke="#333" stroke-width="0.3" textLength="7.4" lengthAdjust="spacingAndGlyphs" >10</text>
<text x="92.80" y="342.60" font-size="5.0" text-anchor="start" fill="#333" stroke="#333" stroke-width="0.3" >2</text>
<text x="134.50" y="346.40" font-size="7" text-anchor="end" fill="#333" stroke="#333" stroke-width="0.3" textLength="7.4" lengthAdjust="spacingAndGlyphs" >10</text>
<text x="135.00" y="342.60" font-size="5.0" text-anchor="start" fill="#333" stroke="#333" stroke-width="0.3" >3</text>
<text x="175.70" y="346.40" font-size="7" text-anchor="end" fill="#333" stroke="#333" stroke-width="0.3" textLength="7.4" lengthAdjust="spacingAndGlyphs" >10</text>
<text x="176.20" y="342.60" font-size="5.0" text-anchor="start" fill="#333" stroke="#333" stroke-width="0.3" >4</text>
<text x="216.30" y="346.40" font-size="7" text-anchor="end" fill="#333" stroke="#333" stroke-width="0.3" textLength="7.4" lengthAdjust="spacingAndGlyphs" >10</text>
<text x="216.80" y="342.60" font-size="5.0" text-anchor="start" fill="#333" stroke="#333" stroke-width="0.3" >5</text>
<text x="135.70" y="359.20" font-size="8.4" text-anchor="start" fill="#222" stroke="#222" stroke-width="0.3" textLength="12.5" lengthAdjust="spacingAndGlyphs" >Gr-1</text>
<rect x="235.2" y="218.40" width="8.6" height="7.9" fill="#8cbf62" stroke="#222" stroke-width="1.8"/>
<text x="246.80" y="225.10" font-size="7.8" text-anchor="start" fill="#555" stroke="#555" stroke-width="0.1" >d7</text>
<rect x="235.2" y="230.80" width="8.6" height="7.9" fill="#b6d79a" stroke="#222" stroke-width="1.8"/>
<text x="246.80" y="237.50" font-size="7.8" text-anchor="start" fill="#555" stroke="#555" stroke-width="0.1" >d5</text>
<rect x="235.2" y="243.20" width="8.6" height="7.9" fill="#e6efdc" stroke="#222" stroke-width="1.8"/>
<text x="246.80" y="249.90" font-size="7.8" text-anchor="start" fill="#555" stroke="#555" stroke-width="0.1" >d2</text>
<rect x="235.2" y="255.60" width="8.6" height="7.9" fill="#ffffff" stroke="#222" stroke-width="1.8"/>
<text x="246.80" y="262.30" font-size="7.8" text-anchor="start" fill="#555" stroke="#555" stroke-width="0.1" >d0</text>
<text x="271.90" y="196.10" font-size="11.4" text-anchor="start" fill="#000" stroke="#000" stroke-width="0.55" font-weight="bold" >D</text>
<text x="301.60" y="210.20" font-size="9.2" text-anchor="start" fill="#222" stroke="#222" stroke-width="0.12" textLength="80.4" lengthAdjust="spacingAndGlyphs" >HhexERT2 (+ Tam)</text>
<text x="418.00" y="210.20" font-size="9.2" text-anchor="start" fill="#222" stroke="#222" stroke-width="0.12" textLength="75.4" lengthAdjust="spacingAndGlyphs" >HhexERT2 (- Tam)</text>
<defs><filter id="bl" x="-20%" y="-20%" width="140%" height="140%"><feGaussianBlur stdDeviation="0.9"/></filter><filter id="bl2" x="-20%" y="-20%" width="140%" height="140%"><feGaussianBlur stdDeviation="0.6"/></filter><clipPath id="cL"><rect x="283.5" y="216.0" width="116.0" height="113.89999999999998"/></clipPath><clipPath id="cR"><rect x="399.5" y="216.0" width="113.20000000000005" height="113.89999999999998"/></clipPath></defs>
<rect x="283.5" y="216.0" width="116.0" height="113.89999999999998" fill="#909eab"/>
<rect x="399.5" y="216.0" width="113.20000000000005" height="113.89999999999998" fill="#929fb0"/>
<g clip-path="url(#cL)"><g filter="url(#bl)">
<ellipse cx="294.9" cy="219.3" rx="4" ry="3.5" fill="#a59fcc"/>
<ellipse cx="392.4" cy="219.3" rx="3" ry="3" fill="#a59fcc"/>
<ellipse cx="300.8" cy="224.2" rx="8.10" ry="9.60" fill="#948dc6"/>
<ellipse cx="319.8" cy="221.5" rx="8.10" ry="8.10" fill="#948dc6"/>
<ellipse cx="318.7" cy="229" rx="8.10" ry="8.10" fill="#948dc6"/>
<ellipse cx="315.4" cy="236.6" rx="8.10" ry="8.10" fill="#948dc6"/>
<ellipse cx="316.5" cy="244.2" rx="8.10" ry="8.10" fill="#948dc6"/>
<ellipse cx="320.8" cy="250.7" rx="8.10" ry="8.10" fill="#948dc6"/>
<ellipse cx="286.2" cy="247.4" rx="4.35" ry="5.10" fill="#948dc6"/>
<ellipse cx="325" cy="219" rx="8.10" ry="7.35" fill="#948dc6"/>
<ellipse cx="333" cy="220" rx="8.10" ry="7.35" fill="#948dc6"/>
<ellipse cx="325" cy="228" rx="7.35" ry="7.35" fill="#948dc6"/>
<ellipse cx="337.8" cy="228" rx="7.35" ry="7.35" fill="#948dc6"/>
<ellipse cx="344.9" cy="221.5" rx="8.10" ry="8.10" fill="#948dc6"/>
<ellipse cx="348.6" cy="232.3" rx="7.35" ry="7.35" fill="#948dc6"/>
<ellipse cx="355.7" cy="225.8" rx="8.10" ry="8.10" fill="#948dc6"/>
<ellipse cx="356.8" cy="242" rx="8.10" ry="8.10" fill="#948dc6"/>
<ellipse cx="324.3" cy="247.4" rx="8.10" ry="9.60" fill="#948dc6"/>
<ellipse cx="347.8" cy="254" rx="8.10" ry="8.10" fill="#948dc6"/>
<ellipse cx="365" cy="226" rx="8.10" ry="8.10" fill="#948dc6"/>
<ellipse cx="372" cy="225" rx="8.10" ry="8.10" fill="#948dc6"/>
<ellipse cx="364" cy="235" rx="8.10" ry="8.10" fill="#948dc6"/>
<ellipse cx="373" cy="236" rx="8.10" ry="8.10" fill="#948dc6"/>
<ellipse cx="380" cy="238" rx="8.10" ry="8.10" fill="#948dc6"/>
<ellipse cx="388" cy="235" rx="8.10" ry="8.10" fill="#948dc6"/>
<ellipse cx="394.6" cy="233.4" rx="8.10" ry="8.10" fill="#948dc6"/>
<ellipse cx="369" cy="245" rx="8.10" ry="8.10" fill="#948dc6"/>
<ellipse cx="378" cy="248" rx="8.10" ry="8.10" fill="#948dc6"/>
<ellipse cx="387" cy="246" rx="8.10" ry="8.10" fill="#948dc6"/>
<ellipse cx="395" cy="245" rx="6.60" ry="8.10" fill="#948dc6"/>
<ellipse cx="286.2" cy="258.5" rx="4.35" ry="5.10" fill="#948dc6"/>
<ellipse cx="292.7" cy="269.3" rx="8.85" ry="8.10" fill="#948dc6"/>
<ellipse cx="301.4" cy="266" rx="8.10" ry="8.10" fill="#948dc6"/>
<ellipse cx="307.9" cy="268.2" rx="8.10" ry="8.10" fill="#948dc6"/>
<ellipse cx="315.4" cy="272.5" rx="8.10" ry="8.10" fill="#948dc6"/>
<ellipse cx="318.7" cy="260.6" rx="8.10" ry="8.10" fill="#948dc6"/>
<ellipse cx="310" cy="258.5" rx="6.60" ry="6.60" fill="#948dc6"/>
<ellipse cx="301.4" cy="282.3" rx="9.60" ry="9.60" fill="#948dc6"/>
<ellipse cx="311.1" cy="288.8" rx="8.10" ry="7.35" fill="#948dc6"/>
<ellipse cx="318.7" cy="280.1" rx="6.60" ry="6.60" fill="#948dc6"/>
<ellipse cx="323.2" cy="255.2" rx="8.10" ry="8.10" fill="#948dc6"/>
<ellipse cx="333" cy="258.5" rx="8.10" ry="8.10" fill="#948dc6"/>
<ellipse cx="347" cy="256.3" rx="9.60" ry="8.10" fill="#948dc6"/>
<ellipse cx="322.2" cy="271.5" rx="5.85" ry="8.10" fill="#948dc6"/>
<ellipse cx="338.9" cy="280.1" rx="7.35" ry="6.60" fill="#948dc6"/>
<ellipse cx="325.4" cy="284.4" rx="8.10" ry="8.85" fill="#948dc6"/>
<ellipse cx="353.5" cy="279" rx="9.60" ry="11.10" fill="#948dc6"/>
<ellipse cx="358" cy="266" rx="5.10" ry="6.60" fill="#948dc6"/>
<ellipse cx="371.9" cy="256.3" rx="8.10" ry="8.10" fill="#948dc6"/>
<ellipse cx="380.5" cy="258.5" rx="8.10" ry="8.10" fill="#948dc6"/>
<ellipse cx="386" cy="266" rx="8.10" ry="8.10" fill="#948dc6"/>
<ellipse cx="392.4" cy="261.7" rx="8.10" ry="8.10" fill="#948dc6"/>
<ellipse cx="396.8" cy="255.2" rx="6.60" ry="6.60" fill="#948dc6"/>
<ellipse cx="364.3" cy="261.7" rx="8.10" ry="8.10" fill="#948dc6"/>
<ellipse cx="391.4" cy="279" rx="9.60" ry="11.85" fill="#948dc6"/>
<ellipse cx="363.2" cy="276.9" rx="7.35" ry="8.10" fill="#948dc6"/>
<ellipse cx="366.5" cy="288.8" rx="8.10" ry="7.35" fill="#948dc6"/>
<ellipse cx="302.5" cy="292" rx="8.10" ry="6.60" fill="#948dc6"/>
<ellipse cx="311.1" cy="292" rx="7.35" ry="5.85" fill="#948dc6"/>
<ellipse cx="293.8" cy="304" rx="11.10" ry="9.60" fill="#948dc6"/>
<ellipse cx="289.5" cy="311.6" rx="8.10" ry="9.60" fill="#948dc6"/>
<ellipse cx="299.2" cy="314.9" rx="9.60" ry="9.60" fill="#948dc6"/>
<ellipse cx="291.6" cy="322.4" rx="9.60" ry="9.60" fill="#948dc6"/>
<ellipse cx="304.6" cy="323.5" rx="9.60" ry="9.60" fill="#948dc6"/>
<ellipse cx="311.1" cy="325" rx="8.10" ry="6.60" fill="#948dc6"/>
<ellipse cx="321.9" cy="301.9" rx="5.10" ry="6.60" fill="#948dc6"/>
<ellipse cx="327.6" cy="292.2" rx="8.10" ry="7.35" fill="#948dc6"/>
<ellipse cx="323.2" cy="300.8" rx="6.60" ry="8.10" fill="#948dc6"/>
<ellipse cx="328.6" cy="306.2" rx="6.60" ry="6.60" fill="#948dc6"/>
<ellipse cx="340.5" cy="296.5" rx="6.60" ry="6.60" fill="#948dc6"/>
<ellipse cx="350.3" cy="294.3" rx="8.10" ry="7.35" fill="#948dc6"/>
<ellipse cx="357.8" cy="300.8" rx="6.60" ry="8.10" fill="#948dc6"/>
<ellipse cx="344.9" cy="306.2" rx="9.60" ry="8.85" fill="#948dc6"/>
<ellipse cx="352.4" cy="311.6" rx="9.60" ry="9.60" fill="#948dc6"/>
<ellipse cx="344.9" cy="316" rx="8.10" ry="8.10" fill="#948dc6"/>
<ellipse cx="355.7" cy="321.4" rx="6.60" ry="6.60" fill="#948dc6"/>
<ellipse cx="365.4" cy="291" rx="8.10" ry="6.60" fill="#948dc6"/>
<ellipse cx="363.2" cy="304" rx="9.60" ry="9.60" fill="#948dc6"/>
<ellipse cx="373" cy="309.5" rx="7.35" ry="7.35" fill="#948dc6"/>
<ellipse cx="381.6" cy="311.6" rx="10.35" ry="8.85" fill="#948dc6"/>
<ellipse cx="373" cy="320.3" rx="6.60" ry="6.60" fill="#948dc6"/>
<ellipse cx="365.4" cy="322.4" rx="8.10" ry="8.10" fill="#948dc6"/>
<ellipse cx="396.8" cy="305.1" rx="5.85" ry="8.85" fill="#948dc6"/>
<ellipse cx="385" cy="326" rx="6.60" ry="5.10" fill="#948dc6"/>
<ellipse cx="395" cy="327" rx="6.60" ry="5.10" fill="#948dc6"/>
<ellipse cx="360" cy="313" rx="6.60" ry="8.10" fill="#948dc6"/>
<ellipse cx="300.8" cy="224.2" rx="6.15" ry="7.38" fill="#7d72b6"/>
<ellipse cx="319.8" cy="221.5" rx="6.15" ry="6.15" fill="#7d72b6"/>
<ellipse cx="318.7" cy="229" rx="6.15" ry="6.15" fill="#7d72b6"/>
<ellipse cx="315.4" cy="236.6" rx="6.15" ry="6.15" fill="#7d72b6"/>
<ellipse cx="316.5" cy="244.2" rx="6.15" ry="6.15" fill="#7d72b6"/>
<ellipse cx="320.8" cy="250.7" rx="6.15" ry="6.15" fill="#7d72b6"/>
<ellipse cx="286.2" cy="247.4" rx="3.07" ry="3.69" fill="#7d72b6"/>
<ellipse cx="325" cy="219" rx="6.15" ry="5.53" fill="#7d72b6"/>
<ellipse cx="333" cy="220" rx="6.15" ry="5.53" fill="#7d72b6"/>
<ellipse cx="325" cy="228" rx="5.53" ry="5.53" fill="#7d72b6"/>
<ellipse cx="337.8" cy="228" rx="5.53" ry="5.53" fill="#7d72b6"/>
<ellipse cx="344.9" cy="221.5" rx="6.15" ry="6.15" fill="#7d72b6"/>
<ellipse cx="348.6" cy="232.3" rx="5.53" ry="5.53" fill="#7d72b6"/>
<ellipse cx="355.7" cy="225.8" rx="6.15" ry="6.15" fill="#7d72b6"/>
<ellipse cx="356.8" cy="242" rx="6.15" ry="6.15" fill="#7d72b6"/>
<ellipse cx="324.3" cy="247.4" rx="6.15" ry="7.38" fill="#7d72b6"/>
<ellipse cx="347.8" cy="254" rx="6.15" ry="6.15" fill="#7d72b6"/>
<ellipse cx="365" cy="226" rx="6.15" ry="6.15" fill="#7d72b6"/>
<ellipse cx="372" cy="225" rx="6.15" ry="6.15" fill="#7d72b6"/>
<ellipse cx="364" cy="235" rx="6.15" ry="6.15" fill="#7d72b6"/>
<ellipse cx="373" cy="236" rx="6.15" ry="6.15" fill="#7d72b6"/>
<ellipse cx="380" cy="238" rx="6.15" ry="6.15" fill="#7d72b6"/>
<ellipse cx="388" cy="235" rx="6.15" ry="6.15" fill="#7d72b6"/>
<ellipse cx="394.6" cy="233.4" rx="6.15" ry="6.15" fill="#7d72b6"/>
<ellipse cx="369" cy="245" rx="6.15" ry="6.15" fill="#7d72b6"/>
<ellipse cx="378" cy="248" rx="6.15" ry="6.15" fill="#7d72b6"/>
<ellipse cx="387" cy="246" rx="6.15" ry="6.15" fill="#7d72b6"/>
<ellipse cx="395" cy="245" rx="4.92" ry="6.15" fill="#7d72b6"/>
<ellipse cx="286.2" cy="258.5" rx="3.07" ry="3.69" fill="#7d72b6"/>
<ellipse cx="292.7" cy="269.3" rx="6.76" ry="6.15" fill="#7d72b6"/>
<ellipse cx="301.4" cy="266" rx="6.15" ry="6.15" fill="#7d72b6"/>
<ellipse cx="307.9" cy="268.2" rx="6.15" ry="6.15" fill="#7d72b6"/>
<ellipse cx="315.4" cy="272.5" rx="6.15" ry="6.15" fill="#7d72b6"/>
<ellipse cx="318.7" cy="260.6" rx="6.15" ry="6.15" fill="#7d72b6"/>
<ellipse cx="310" cy="258.5" rx="4.92" ry="4.92" fill="#7d72b6"/>
<ellipse cx="301.4" cy="282.3" rx="7.38" ry="7.38" fill="#7d72b6"/>
<ellipse cx="311.1" cy="288.8" rx="6.15" ry="5.53" fill="#7d72b6"/>
<ellipse cx="318.7" cy="280.1" rx="4.92" ry="4.92" fill="#7d72b6"/>
<ellipse cx="323.2" cy="255.2" rx="6.15" ry="6.15" fill="#7d72b6"/>
<ellipse cx="333" cy="258.5" rx="6.15" ry="6.15" fill="#7d72b6"/>
<ellipse cx="347" cy="256.3" rx="7.38" ry="6.15" fill="#7d72b6"/>
<ellipse cx="322.2" cy="271.5" rx="4.30" ry="6.15" fill="#7d72b6"/>
<ellipse cx="338.9" cy="280.1" rx="5.53" ry="4.92" fill="#7d72b6"/>
<ellipse cx="325.4" cy="284.4" rx="6.15" ry="6.76" fill="#7d72b6"/>
<ellipse cx="353.5" cy="279" rx="7.38" ry="8.61" fill="#7d72b6"/>
<ellipse cx="358" cy="266" rx="3.69" ry="4.92" fill="#7d72b6"/>
<ellipse cx="371.9" cy="256.3" rx="6.15" ry="6.15" fill="#7d72b6"/>
<ellipse cx="380.5" cy="258.5" rx="6.15" ry="6.15" fill="#7d72b6"/>
<ellipse cx="386" cy="266" rx="6.15" ry="6.15" fill="#7d72b6"/>
<ellipse cx="392.4" cy="261.7" rx="6.15" ry="6.15" fill="#7d72b6"/>
<ellipse cx="396.8" cy="255.2" rx="4.92" ry="4.92" fill="#7d72b6"/>
<ellipse cx="364.3" cy="261.7" rx="6.15" ry="6.15" fill="#7d72b6"/>
<ellipse cx="391.4" cy="279" rx="7.38" ry="9.22" fill="#7d72b6"/>
<ellipse cx="363.2" cy="276.9" rx="5.53" ry="6.15" fill="#7d72b6"/>
<ellipse cx="366.5" cy="288.8" rx="6.15" ry="5.53" fill="#7d72b6"/>
<ellipse cx="302.5" cy="292" rx="6.15" ry="4.92" fill="#7d72b6"/>
<ellipse cx="311.1" cy="292" rx="5.53" ry="4.30" fill="#7d72b6"/>
<ellipse cx="293.8" cy="304" rx="8.61" ry="7.38" fill="#7d72b6"/>
<ellipse cx="289.5" cy="311.6" rx="6.15" ry="7.38" fill="#7d72b6"/>
<ellipse cx="299.2" cy="314.9" rx="7.38" ry="7.38" fill="#7d72b6"/>
<ellipse cx="291.6" cy="322.4" rx="7.38" ry="7.38" fill="#7d72b6"/>
<ellipse cx="304.6" cy="323.5" rx="7.38" ry="7.38" fill="#7d72b6"/>
<ellipse cx="311.1" cy="325" rx="6.15" ry="4.92" fill="#7d72b6"/>
<ellipse cx="321.9" cy="301.9" rx="3.69" ry="4.92" fill="#7d72b6"/>
<ellipse cx="327.6" cy="292.2" rx="6.15" ry="5.53" fill="#7d72b6"/>
<ellipse cx="323.2" cy="300.8" rx="4.92" ry="6.15" fill="#7d72b6"/>
<ellipse cx="328.6" cy="306.2" rx="4.92" ry="4.92" fill="#7d72b6"/>
<ellipse cx="340.5" cy="296.5" rx="4.92" ry="4.92" fill="#7d72b6"/>
<ellipse cx="350.3" cy="294.3" rx="6.15" ry="5.53" fill="#7d72b6"/>
<ellipse cx="357.8" cy="300.8" rx="4.92" ry="6.15" fill="#7d72b6"/>
<ellipse cx="344.9" cy="306.2" rx="7.38" ry="6.76" fill="#7d72b6"/>
<ellipse cx="352.4" cy="311.6" rx="7.38" ry="7.38" fill="#7d72b6"/>
<ellipse cx="344.9" cy="316" rx="6.15" ry="6.15" fill="#7d72b6"/>
<ellipse cx="355.7" cy="321.4" rx="4.92" ry="4.92" fill="#7d72b6"/>
<ellipse cx="365.4" cy="291" rx="6.15" ry="4.92" fill="#7d72b6"/>
<ellipse cx="363.2" cy="304" rx="7.38" ry="7.38" fill="#7d72b6"/>
<ellipse cx="373" cy="309.5" rx="5.53" ry="5.53" fill="#7d72b6"/>
<ellipse cx="381.6" cy="311.6" rx="7.99" ry="6.76" fill="#7d72b6"/>
<ellipse cx="373" cy="320.3" rx="4.92" ry="4.92" fill="#7d72b6"/>
<ellipse cx="365.4" cy="322.4" rx="6.15" ry="6.15" fill="#7d72b6"/>
<ellipse cx="396.8" cy="305.1" rx="4.30" ry="6.76" fill="#7d72b6"/>
<ellipse cx="385" cy="326" rx="4.92" ry="3.69" fill="#7d72b6"/>
<ellipse cx="395" cy="327" rx="4.92" ry="3.69" fill="#7d72b6"/>
<ellipse cx="360" cy="313" rx="4.92" ry="6.15" fill="#7d72b6"/>
<ellipse cx="299.88" cy="222.00" rx="2.85" ry="3.06" fill="#5a4b9a"/>
<ellipse cx="301.59" cy="221.51" rx="2.85" ry="3.06" fill="#5a4b9a"/>
<ellipse cx="319.99" cy="220.79" rx="2.85" ry="2.55" fill="#5a4b9a"/>
<ellipse cx="317.48" cy="221.54" rx="2.85" ry="2.55" fill="#5a4b9a"/>
<ellipse cx="316.27" cy="228.65" rx="2.85" ry="2.55" fill="#5a4b9a"/>
<ellipse cx="316.44" cy="226.85" rx="2.85" ry="2.55" fill="#5a4b9a"/>
<ellipse cx="315.00" cy="238.32" rx="2.85" ry="2.55" fill="#5a4b9a"/>
<ellipse cx="313.42" cy="235.15" rx="2.85" ry="2.55" fill="#5a4b9a"/>
<ellipse cx="317.17" cy="246.55" rx="2.85" ry="2.55" fill="#5a4b9a"/>
<ellipse cx="316.90" cy="243.66" rx="2.85" ry="2.55" fill="#5a4b9a"/>
<ellipse cx="323.30" cy="248.32" rx="2.85" ry="2.55" fill="#5a4b9a"/>
<ellipse cx="322.68" cy="249.60" rx="2.85" ry="2.55" fill="#5a4b9a"/>
<ellipse cx="285.27" cy="246.20" rx="1.43" ry="1.53" fill="#5a4b9a"/>
<ellipse cx="285.70" cy="248.40" rx="1.43" ry="1.53" fill="#5a4b9a"/>
<ellipse cx="323.32" cy="219.39" rx="2.85" ry="2.30" fill="#5a4b9a"/>
<ellipse cx="325.73" cy="218.40" rx="2.85" ry="2.30" fill="#5a4b9a"/>
<ellipse cx="333.25" cy="217.93" rx="2.85" ry="2.30" fill="#5a4b9a"/>
<ellipse cx="330.69" cy="218.61" rx="2.85" ry="2.30" fill="#5a4b9a"/>
<ellipse cx="325.85" cy="227.66" rx="2.56" ry="2.30" fill="#5a4b9a"/>
<ellipse cx="324.12" cy="228.40" rx="2.56" ry="2.30" fill="#5a4b9a"/>
<ellipse cx="337.58" cy="227.05" rx="2.56" ry="2.30" fill="#5a4b9a"/>
<ellipse cx="339.19" cy="228.94" rx="2.56" ry="2.30" fill="#5a4b9a"/>
<ellipse cx="343.56" cy="221.89" rx="2.85" ry="2.55" fill="#5a4b9a"/>
<ellipse cx="345.03" cy="223.47" rx="2.85" ry="2.55" fill="#5a4b9a"/>
<ellipse cx="349.68" cy="231.30" rx="2.56" ry="2.30" fill="#5a4b9a"/>
<ellipse cx="350.87" cy="230.50" rx="2.56" ry="2.30" fill="#5a4b9a"/>
<ellipse cx="355.27" cy="227.15" rx="2.85" ry="2.55" fill="#5a4b9a"/>
<ellipse cx="353.87" cy="225.74" rx="2.85" ry="2.55" fill="#5a4b9a"/>
<ellipse cx="354.38" cy="242.88" rx="2.85" ry="2.55" fill="#5a4b9a"/>
<ellipse cx="358.19" cy="242.38" rx="2.85" ry="2.55" fill="#5a4b9a"/>
<ellipse cx="326.27" cy="246.23" rx="2.85" ry="3.06" fill="#5a4b9a"/>
<ellipse cx="325.33" cy="247.99" rx="2.85" ry="3.06" fill="#5a4b9a"/>
<ellipse cx="348.22" cy="253.77" rx="2.85" ry="2.55" fill="#5a4b9a"/>
<ellipse cx="349.58" cy="256.33" rx="2.85" ry="2.55" fill="#5a4b9a"/>
<ellipse cx="364.86" cy="226.86" rx="2.85" ry="2.55" fill="#5a4b9a"/>
<ellipse cx="362.69" cy="227.06" rx="2.85" ry="2.55" fill="#5a4b9a"/>
<ellipse cx="372.77" cy="227.59" rx="2.85" ry="2.55" fill="#5a4b9a"/>
<ellipse cx="373.69" cy="223.87" rx="2.85" ry="2.55" fill="#5a4b9a"/>
<ellipse cx="363.40" cy="235.89" rx="2.85" ry="2.55" fill="#5a4b9a"/>
<ellipse cx="361.49" cy="234.80" rx="2.85" ry="2.55" fill="#5a4b9a"/>
<ellipse cx="371.26" cy="233.99" rx="2.85" ry="2.55" fill="#5a4b9a"/>
<ellipse cx="370.68" cy="237.41" rx="2.85" ry="2.55" fill="#5a4b9a"/>
<ellipse cx="378.05" cy="236.67" rx="2.85" ry="2.55" fill="#5a4b9a"/>
<ellipse cx="379.43" cy="239.95" rx="2.85" ry="2.55" fill="#5a4b9a"/>
<ellipse cx="385.80" cy="234.73" rx="2.85" ry="2.55" fill="#5a4b9a"/>
<ellipse cx="388.26" cy="237.01" rx="2.85" ry="2.55" fill="#5a4b9a"/>
<ellipse cx="396.28" cy="235.31" rx="2.85" ry="2.55" fill="#5a4b9a"/>
<ellipse cx="393.44" cy="232.96" rx="2.85" ry="2.55" fill="#5a4b9a"/>
<ellipse cx="368.26" cy="247.02" rx="2.85" ry="2.55" fill="#5a4b9a"/>
<ellipse cx="371.40" cy="243.17" rx="2.85" ry="2.55" fill="#5a4b9a"/>
<ellipse cx="376.30" cy="246.59" rx="2.85" ry="2.55" fill="#5a4b9a"/>
<ellipse cx="376.60" cy="247.92" rx="2.85" ry="2.55" fill="#5a4b9a"/>
<ellipse cx="387.47" cy="244.75" rx="2.85" ry="2.55" fill="#5a4b9a"/>
<ellipse cx="384.40" cy="245.57" rx="2.85" ry="2.55" fill="#5a4b9a"/>
<ellipse cx="394.45" cy="245.35" rx="2.28" ry="2.55" fill="#5a4b9a"/>
<ellipse cx="396.90" cy="246.00" rx="2.28" ry="2.55" fill="#5a4b9a"/>
<ellipse cx="286.24" cy="258.87" rx="1.43" ry="1.53" fill="#5a4b9a"/>
<ellipse cx="286.66" cy="257.10" rx="1.43" ry="1.53" fill="#5a4b9a"/>
<ellipse cx="295.01" cy="270.77" rx="3.14" ry="2.55" fill="#5a4b9a"/>
<ellipse cx="294.86" cy="270.86" rx="3.14" ry="2.55" fill="#5a4b9a"/>
<ellipse cx="300.83" cy="265.47" rx="2.85" ry="2.55" fill="#5a4b9a"/>
<ellipse cx="299.32" cy="266.71" rx="2.85" ry="2.55" fill="#5a4b9a"/>
<ellipse cx="305.60" cy="265.93" rx="2.85" ry="2.55" fill="#5a4b9a"/>
<ellipse cx="306.37" cy="266.43" rx="2.85" ry="2.55" fill="#5a4b9a"/>
<ellipse cx="314.56" cy="270.15" rx="2.85" ry="2.55" fill="#5a4b9a"/>
<ellipse cx="312.78" cy="270.67" rx="2.85" ry="2.55" fill="#5a4b9a"/>
<ellipse cx="316.61" cy="259.88" rx="2.85" ry="2.55" fill="#5a4b9a"/>
<ellipse cx="316.21" cy="262.57" rx="2.85" ry="2.55" fill="#5a4b9a"/>
<ellipse cx="310.48" cy="257.02" rx="2.28" ry="2.04" fill="#5a4b9a"/>
<ellipse cx="308.96" cy="257.86" rx="2.28" ry="2.04" fill="#5a4b9a"/>
<ellipse cx="300.54" cy="279.92" rx="3.42" ry="3.06" fill="#5a4b9a"/>
<ellipse cx="303.60" cy="285.41" rx="3.42" ry="3.06" fill="#5a4b9a"/>
<ellipse cx="310.92" cy="288.72" rx="2.85" ry="2.30" fill="#5a4b9a"/>
<ellipse cx="308.93" cy="286.92" rx="2.85" ry="2.30" fill="#5a4b9a"/>
<ellipse cx="318.04" cy="279.11" rx="2.28" ry="2.04" fill="#5a4b9a"/>
<ellipse cx="320.08" cy="278.68" rx="2.28" ry="2.04" fill="#5a4b9a"/>
<ellipse cx="320.70" cy="257.57" rx="2.85" ry="2.55" fill="#5a4b9a"/>
<ellipse cx="323.35" cy="253.34" rx="2.85" ry="2.55" fill="#5a4b9a"/>
<ellipse cx="333.23" cy="256.02" rx="2.85" ry="2.55" fill="#5a4b9a"/>
<ellipse cx="333.15" cy="261.01" rx="2.85" ry="2.55" fill="#5a4b9a"/>
<ellipse cx="349.29" cy="257.33" rx="3.42" ry="2.55" fill="#5a4b9a"/>
<ellipse cx="345.50" cy="255.60" rx="3.42" ry="2.55" fill="#5a4b9a"/>
<ellipse cx="320.98" cy="272.93" rx="2.00" ry="2.55" fill="#5a4b9a"/>
<ellipse cx="322.32" cy="272.97" rx="2.00" ry="2.55" fill="#5a4b9a"/>
<ellipse cx="338.10" cy="278.94" rx="2.56" ry="2.04" fill="#5a4b9a"/>
<ellipse cx="340.37" cy="282.14" rx="2.56" ry="2.04" fill="#5a4b9a"/>
<ellipse cx="327.25" cy="286.17" rx="2.85" ry="2.81" fill="#5a4b9a"/>
<ellipse cx="327.07" cy="285.79" rx="2.85" ry="2.81" fill="#5a4b9a"/>
<ellipse cx="351.78" cy="279.13" rx="3.42" ry="3.57" fill="#5a4b9a"/>
<ellipse cx="352.59" cy="275.54" rx="3.42" ry="3.57" fill="#5a4b9a"/>
<ellipse cx="356.51" cy="265.07" rx="1.71" ry="2.04" fill="#5a4b9a"/>
<ellipse cx="357.24" cy="266.81" rx="1.71" ry="2.04" fill="#5a4b9a"/>
<ellipse cx="374.30" cy="256.02" rx="2.85" ry="2.55" fill="#5a4b9a"/>
<ellipse cx="374.19" cy="258.86" rx="2.85" ry="2.55" fill="#5a4b9a"/>
<ellipse cx="382.89" cy="257.79" rx="2.85" ry="2.55" fill="#5a4b9a"/>
<ellipse cx="379.03" cy="257.07" rx="2.85" ry="2.55" fill="#5a4b9a"/>
<ellipse cx="384.41" cy="264.45" rx="2.85" ry="2.55" fill="#5a4b9a"/>
<ellipse cx="386.65" cy="268.10" rx="2.85" ry="2.55" fill="#5a4b9a"/>
<ellipse cx="394.19" cy="261.59" rx="2.85" ry="2.55" fill="#5a4b9a"/>
<ellipse cx="393.20" cy="263.27" rx="2.85" ry="2.55" fill="#5a4b9a"/>
<ellipse cx="395.06" cy="255.87" rx="2.28" ry="2.04" fill="#5a4b9a"/>
<ellipse cx="398.52" cy="256.39" rx="2.28" ry="2.04" fill="#5a4b9a"/>
<ellipse cx="365.61" cy="261.58" rx="2.85" ry="2.55" fill="#5a4b9a"/>
<ellipse cx="362.61" cy="263.22" rx="2.85" ry="2.55" fill="#5a4b9a"/>
<ellipse cx="390.34" cy="281.37" rx="3.42" ry="3.83" fill="#5a4b9a"/>
<ellipse cx="394.37" cy="278.18" rx="3.42" ry="3.83" fill="#5a4b9a"/>
<ellipse cx="362.73" cy="279.25" rx="2.56" ry="2.55" fill="#5a4b9a"/>
<ellipse cx="364.26" cy="275.17" rx="2.56" ry="2.55" fill="#5a4b9a"/>
<ellipse cx="364.54" cy="287.15" rx="2.85" ry="2.30" fill="#5a4b9a"/>
<ellipse cx="368.63" cy="290.25" rx="2.85" ry="2.30" fill="#5a4b9a"/>
<ellipse cx="300.64" cy="293.37" rx="2.85" ry="2.04" fill="#5a4b9a"/>
<ellipse cx="305.02" cy="292.66" rx="2.85" ry="2.04" fill="#5a4b9a"/>
<ellipse cx="310.39" cy="292.18" rx="2.56" ry="1.79" fill="#5a4b9a"/>
<ellipse cx="309.36" cy="290.21" rx="2.56" ry="1.79" fill="#5a4b9a"/>
<ellipse cx="297.26" cy="304.94" rx="3.99" ry="3.06" fill="#5a4b9a"/>
<ellipse cx="294.00" cy="306.73" rx="3.99" ry="3.06" fill="#5a4b9a"/>
<ellipse cx="289.15" cy="313.94" rx="2.85" ry="3.06" fill="#5a4b9a"/>
<ellipse cx="291.21" cy="309.78" rx="2.85" ry="3.06" fill="#5a4b9a"/>
<ellipse cx="297.64" cy="313.60" rx="3.42" ry="3.06" fill="#5a4b9a"/>
<ellipse cx="297.57" cy="315.44" rx="3.42" ry="3.06" fill="#5a4b9a"/>
<ellipse cx="290.08" cy="321.89" rx="3.42" ry="3.06" fill="#5a4b9a"/>
<ellipse cx="289.28" cy="324.98" rx="3.42" ry="3.06" fill="#5a4b9a"/>
<ellipse cx="303.68" cy="323.24" rx="3.42" ry="3.06" fill="#5a4b9a"/>
<ellipse cx="305.13" cy="326.05" rx="3.42" ry="3.06" fill="#5a4b9a"/>
<ellipse cx="310.68" cy="326.75" rx="2.85" ry="2.04" fill="#5a4b9a"/>
<ellipse cx="311.11" cy="325.13" rx="2.85" ry="2.04" fill="#5a4b9a"/>
<ellipse cx="321.97" cy="299.88" rx="1.71" ry="2.04" fill="#5a4b9a"/>
<ellipse cx="321.71" cy="300.57" rx="1.71" ry="2.04" fill="#5a4b9a"/>
<ellipse cx="325.00" cy="293.61" rx="2.85" ry="2.30" fill="#5a4b9a"/>
<ellipse cx="325.88" cy="292.07" rx="2.85" ry="2.30" fill="#5a4b9a"/>
<ellipse cx="324.15" cy="301.10" rx="2.28" ry="2.55" fill="#5a4b9a"/>
<ellipse cx="322.47" cy="300.90" rx="2.28" ry="2.55" fill="#5a4b9a"/>
<ellipse cx="328.83" cy="307.39" rx="2.28" ry="2.04" fill="#5a4b9a"/>
<ellipse cx="326.95" cy="306.45" rx="2.28" ry="2.04" fill="#5a4b9a"/>
<ellipse cx="339.44" cy="295.56" rx="2.28" ry="2.04" fill="#5a4b9a"/>
<ellipse cx="341.64" cy="296.53" rx="2.28" ry="2.04" fill="#5a4b9a"/>
<ellipse cx="350.62" cy="295.53" rx="2.85" ry="2.30" fill="#5a4b9a"/>
<ellipse cx="352.47" cy="294.03" rx="2.85" ry="2.30" fill="#5a4b9a"/>
<ellipse cx="358.27" cy="300.83" rx="2.28" ry="2.55" fill="#5a4b9a"/>
<ellipse cx="357.85" cy="301.81" rx="2.28" ry="2.55" fill="#5a4b9a"/>
<ellipse cx="344.60" cy="306.39" rx="3.42" ry="2.81" fill="#5a4b9a"/>
<ellipse cx="344.76" cy="308.75" rx="3.42" ry="2.81" fill="#5a4b9a"/>
<ellipse cx="353.66" cy="313.97" rx="3.42" ry="3.06" fill="#5a4b9a"/>
<ellipse cx="355.19" cy="310.09" rx="3.42" ry="3.06" fill="#5a4b9a"/>
<ellipse cx="345.21" cy="318.33" rx="2.85" ry="2.55" fill="#5a4b9a"/>
<ellipse cx="346.68" cy="314.09" rx="2.85" ry="2.55" fill="#5a4b9a"/>
<ellipse cx="354.11" cy="321.16" rx="2.28" ry="2.04" fill="#5a4b9a"/>
<ellipse cx="353.90" cy="320.31" rx="2.28" ry="2.04" fill="#5a4b9a"/>
<ellipse cx="363.16" cy="291.71" rx="2.85" ry="2.04" fill="#5a4b9a"/>
<ellipse cx="366.89" cy="292.67" rx="2.85" ry="2.04" fill="#5a4b9a"/>
<ellipse cx="361.02" cy="305.36" rx="3.42" ry="3.06" fill="#5a4b9a"/>
<ellipse cx="364.21" cy="301.75" rx="3.42" ry="3.06" fill="#5a4b9a"/>
<ellipse cx="374.81" cy="311.71" rx="2.56" ry="2.30" fill="#5a4b9a"/>
<ellipse cx="371.68" cy="311.64" rx="2.56" ry="2.30" fill="#5a4b9a"/>
<ellipse cx="380.91" cy="311.53" rx="3.71" ry="2.81" fill="#5a4b9a"/>
<ellipse cx="384.94" cy="313.52" rx="3.71" ry="2.81" fill="#5a4b9a"/>
<ellipse cx="371.58" cy="320.01" rx="2.28" ry="2.04" fill="#5a4b9a"/>
<ellipse cx="373.07" cy="319.62" rx="2.28" ry="2.04" fill="#5a4b9a"/>
<ellipse cx="363.80" cy="321.45" rx="2.85" ry="2.55" fill="#5a4b9a"/>
<ellipse cx="366.57" cy="319.88" rx="2.85" ry="2.55" fill="#5a4b9a"/>
<ellipse cx="397.00" cy="304.76" rx="2.00" ry="2.81" fill="#5a4b9a"/>
<ellipse cx="395.03" cy="304.13" rx="2.00" ry="2.81" fill="#5a4b9a"/>
<ellipse cx="385.52" cy="326.04" rx="2.28" ry="1.53" fill="#5a4b9a"/>
<ellipse cx="383.17" cy="327.53" rx="2.28" ry="1.53" fill="#5a4b9a"/>
<ellipse cx="396.21" cy="328.49" rx="2.28" ry="1.53" fill="#5a4b9a"/>
<ellipse cx="393.34" cy="326.26" rx="2.28" ry="1.53" fill="#5a4b9a"/>
<ellipse cx="358.07" cy="314.46" rx="2.28" ry="2.55" fill="#5a4b9a"/>
<ellipse cx="359.04" cy="311.06" rx="2.28" ry="2.55" fill="#5a4b9a"/>
</g></g>
<g clip-path="url(#cR)"><g filter="url(#bl)">
<ellipse cx="426.2" cy="228.4" rx="7.5" ry="7.2" fill="#968ac6"/>
<ellipse cx="431.4" cy="239.6" rx="7.2" ry="7.5" fill="#968ac6"/>
<ellipse cx="459.1" cy="255.2" rx="9.0" ry="9.0" fill="#968ac6"/>
<ellipse cx="407.9" cy="262.8" rx="8.3" ry="9.0" fill="#968ac6"/>
<ellipse cx="427" cy="281.2" rx="7.8" ry="8.5" fill="#968ac6"/>
<ellipse cx="475.1" cy="311.6" rx="9.0" ry="9.0" fill="#968ac6"/>
<ellipse cx="498.9" cy="307.8" rx="14" ry="11.5" fill="#968ac6"/>
<ellipse cx="426.5" cy="228.4" rx="5.10" ry="4.90" fill="#7454b2"/>
<ellipse cx="425.59999999999997" cy="227.8" rx="1.65" ry="1.58" fill="#a08ad0"/>
<ellipse cx="428.45" cy="230.20" rx="1.88" ry="1.80" fill="#5e38a0"/>
<ellipse cx="431.7" cy="239.6" rx="4.90" ry="5.10" fill="#7454b2"/>
<ellipse cx="430.79999999999995" cy="239.0" rx="1.58" ry="1.65" fill="#a08ad0"/>
<ellipse cx="433.56" cy="241.47" rx="1.80" ry="1.88" fill="#5e38a0"/>
<ellipse cx="459.40000000000003" cy="255.2" rx="6.12" ry="6.12" fill="#7454b2"/>
<ellipse cx="458.5" cy="254.6" rx="1.98" ry="1.98" fill="#a08ad0"/>
<ellipse cx="461.80" cy="257.45" rx="2.25" ry="2.25" fill="#5e38a0"/>
<ellipse cx="408.2" cy="262.8" rx="5.64" ry="6.12" fill="#7454b2"/>
<ellipse cx="407.29999999999995" cy="262.2" rx="1.83" ry="1.98" fill="#a08ad0"/>
<ellipse cx="410.39" cy="265.05" rx="2.08" ry="2.25" fill="#5e38a0"/>
<ellipse cx="427.3" cy="281.2" rx="5.30" ry="5.78" fill="#7454b2"/>
<ellipse cx="426.4" cy="280.59999999999997" rx="1.72" ry="1.87" fill="#a08ad0"/>
<ellipse cx="429.34" cy="283.32" rx="1.95" ry="2.12" fill="#5e38a0"/>
<ellipse cx="475.40000000000003" cy="311.6" rx="6.12" ry="6.12" fill="#7454b2"/>
<ellipse cx="474.5" cy="311.0" rx="1.98" ry="1.98" fill="#a08ad0"/>
<ellipse cx="477.80" cy="313.85" rx="2.25" ry="2.25" fill="#5e38a0"/>
<ellipse cx="494.4" cy="312.2" rx="3.4" ry="3.2" fill="#6040a8"/><ellipse cx="507.5" cy="307.3" rx="3" ry="3.8" fill="#6040a8"/><ellipse cx="499" cy="303" rx="3" ry="2" fill="#8a72c4"/><ellipse cx="490" cy="304" rx="2.5" ry="2" fill="#8a72c4"/>
<circle cx="406.8" cy="241.4" r="1" fill="#555"/><circle cx="417.6" cy="306.6" r="0.7" fill="#555"/>
</g></g>
<rect x="283.5" y="216.0" width="229.20000000000005" height="113.89999999999998" fill="none" stroke="#1a1a2a" stroke-width="1"/>
<line x1="399.50" y1="216.00" x2="399.50" y2="329.90" stroke="#1a1a2a" stroke-width="1"/>
<rect x="0" y="0" width="520" height="1.2" fill="#000"/>
<rect x="0" y="0" width="1.2" height="370" fill="#000"/>
<rect x="518" y="0" width="2" height="370" fill="#000"/>
<rect x="0" y="368" width="520" height="2" fill="#000"/>
</svg>
</body></html>
